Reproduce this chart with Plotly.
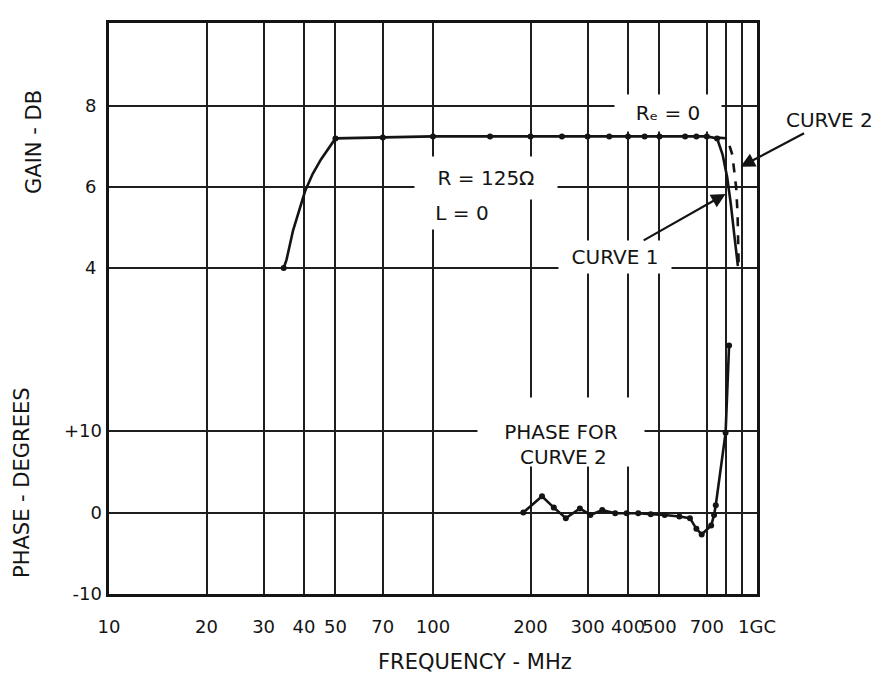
import numpy as np
import plotly.graph_objects as go

# ---- data -------------------------------------------------------------
# Curve 1 (solid): gain vs frequency, R = 125 ohm, L = 0
CURVE1_MHZ = [34.6, 35.3, 37.0, 38.8, 40.3, 42.5, 45.1, 50, 70, 100, 150, 200, 250,
              300, 350, 400, 450, 500, 600, 650, 700, 753, 783, 809, 830, 852, 873]
CURVE1_DB = [4.0, 4.2, 4.93, 5.5, 5.9, 6.32, 6.68, 7.2, 7.22, 7.25, 7.25, 7.25, 7.25,
             7.25, 7.25, 7.25, 7.25, 7.25, 7.25, 7.25, 7.25, 7.2, 6.8, 6.24, 5.59, 4.78, 4.05]

# Measured points plotted on the gain curve
POINTS_MHZ = [34.6, 50, 70, 100, 150, 200, 250, 300, 350, 400, 450, 500, 600, 650, 700, 753]
POINTS_DB = [4.0, 7.2, 7.22, 7.25, 7.25, 7.25, 7.25, 7.25, 7.25, 7.25, 7.25, 7.25,
             7.25, 7.25, 7.25, 7.2]

# Curve 2 (dashed): roll-off with Re = 0
CURVE2_MHZ = [753, 809, 839, 852, 862, 871, 876, 878]
CURVE2_DB = [7.22, 7.2, 6.8, 6.4, 6.0, 5.34, 4.6, 4.05]

# Phase for curve 2
PHASE_MHZ = [190, 217, 236, 257, 284, 306, 333, 365, 396, 430, 470, 519, 576,
             621, 650, 675, 722, 737, 746, 800, 820]
PHASE_DEG = [0, 2.0, 0.6, -0.7, 0.5, -0.3, 0.3, -0.1, -0.1, -0.1, -0.2, -0.3, -0.5,
             -0.7, -2.0, -2.7, -1.6, -0.3, 0.9, 9.8, 20.5]

# Axis ticks
FREQ_TICKS = [10, 20, 30, 40, 50, 70, 100, 200, 300, 400, 500, 700, 1000]
FREQ_LABELS = ["10", "20", "30", "40", "50", "70", "100", "200", "300", "400", "500",
               "700", "1GC"]
FREQ_EXTRA_GRID = [800, 900]
GAIN_TICKS = [4, 6, 8]
PHASE_TICKS = [-10, 0, 10]
PHASE_LABELS = ["-10", "0", "+10"]

INK = "#141414"
FONT = "DejaVu Sans"

fig = go.Figure()

fig.add_trace(go.Scatter(x=CURVE1_MHZ, y=CURVE1_DB, mode="lines",
                         line=dict(color=INK, width=2.6), yaxis="y"))
fig.add_trace(go.Scatter(x=CURVE2_MHZ, y=CURVE2_DB, mode="lines",
                         line=dict(color=INK, width=2.6, dash="dash"), yaxis="y"))
fig.add_trace(go.Scatter(x=POINTS_MHZ, y=POINTS_DB, mode="markers",
                         marker=dict(color=INK, size=6), yaxis="y"))
fig.add_trace(go.Scatter(x=PHASE_MHZ, y=PHASE_DEG, mode="lines+markers",
                         line=dict(color=INK, width=2.6),
                         marker=dict(color=INK, size=6), yaxis="y2"))

axis_common = dict(showgrid=True, gridcolor="#1e1e1e", gridwidth=2, zeroline=False,
                   ticks="", color=INK)

fig.update_layout(
    width=887, height=675,
    margin=dict(l=109, r=130, t=23, b=81),
    paper_bgcolor="white", plot_bgcolor="white",
    showlegend=False,
    font=dict(family=FONT, color=INK, size=18),
    xaxis=dict(type="log", range=[1, 3], tickvals=FREQ_TICKS, ticktext=FREQ_LABELS,
               tickangle=0, tickfont=dict(size=18, family=FONT), ticklabelstandoff=14,
               minor=dict(tickvals=FREQ_EXTRA_GRID, showgrid=True, gridcolor="#1e1e1e",
                          gridwidth=2, ticks=""),
               showline=True, linecolor=INK, linewidth=3, mirror=True, **axis_common),
    yaxis=dict(range=[-4.05, 10.05], tickvals=GAIN_TICKS,
               tickfont=dict(size=18, family=FONT), ticklabelstandoff=6,
               showline=True, linecolor=INK, linewidth=3, mirror=True, **axis_common),
    yaxis2=dict(range=[-10, 60.06], tickvals=PHASE_TICKS, ticktext=PHASE_LABELS,
                tickfont=dict(size=18, family=FONT), ticklabelstandoff=6,
                overlaying="y", side="left", anchor="x", showline=False,
                **axis_common),
)


def px_to_paper(px, py):
    return (px - 109) / 648, (594 - py) / 571


def label(text, px, py, size=20, box=None, **kw):
    xp, yp = px_to_paper(px, py)
    extra = {}
    if box:
        extra = dict(width=box[0], height=box[1], bgcolor="white")
    fig.add_annotation(text=text, x=xp, y=yp, xref="paper", yref="paper",
                       showarrow=False, font=dict(size=size, family=FONT, color=INK),
                       xanchor="center", yanchor="middle", **extra, **kw)


# axis titles
label("GAIN - DB", 34, 142, size=21, textangle=-90)
label("PHASE - DEGREES", 22, 482, size=21, textangle=-90)
label("FREQUENCY - MHz", 475, 662, size=21)

# curve labels (white boxes break the grid behind them)
label("Rₑ = 0", 668, 113, box=(104, 34))
label("R = 125Ω", 486, 178, box=(140, 40))
label("L = 0", 462, 213, box=(70, 30))
label("PHASE FOR", 561, 444, box=(164, 66), yshift=12)
label("CURVE 2", 563, 457)

# curve names with leader arrows pointing at the roll-off
fig.add_annotation(x=np.log10(800), y=5.83, xref="x", yref="y", text="CURVE 1",
                   font=dict(size=20, family=FONT, color=INK), bgcolor="white",
                   width=110, height=30,
                   showarrow=True, arrowhead=2, arrowsize=1.3, arrowwidth=2.2,
                   arrowcolor=INK, ax=-111, ay=63)
fig.add_annotation(x=np.log10(890), y=6.5, xref="x", yref="y", text="CURVE 2",
                   font=dict(size=20, family=FONT, color=INK),
                   showarrow=True, arrowhead=2, arrowsize=1.3, arrowwidth=2.2,
                   arrowcolor=INK, ax=89, ay=-47)

fig.write_html("out.html")
